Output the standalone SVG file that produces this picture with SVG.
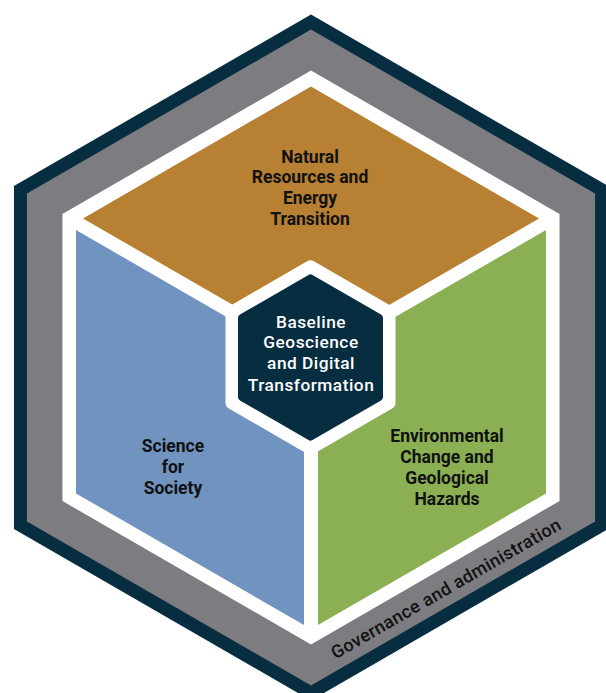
<svg xmlns="http://www.w3.org/2000/svg" width="606" height="693" viewBox="0 0 606 693">
<style>
.lbl{font-family:Roboto,"Liberation Sans",sans-serif;font-weight:700;font-size:17.5px;fill:#111;text-anchor:middle}
.ctr{font-family:Roboto,"Liberation Sans",sans-serif;font-weight:500;font-size:17.3px;letter-spacing:0.5px;fill:#fff;text-anchor:middle}
.gov{font-family:Roboto,"Liberation Sans",sans-serif;font-weight:500;font-size:18px;fill:#111;text-anchor:middle}
</style>
<rect width="606" height="693" fill="#fff"/>
<g id="frame">
<polygon points="311,14.5 608.05,186 608.05,529 311,700.5 13.95,529 13.95,186" fill="#062d40"/>
<polygon points="311,29.5 595.06,193.5 595.06,521.5 311,685.5 26.94,521.5 26.94,193.5" fill="#7d7c81"/>
<polygon points="311,70.5 559.55,214 559.55,501 311,644.5 62.45,501 62.45,214" fill="#fff"/>
<text class="gov" transform="translate(449,594) rotate(-30)" x="0" y="0" textLength="262" lengthAdjust="spacing">Governance and administration</text>
</g>
<g id="natural-resources">
<polygon points="311,86.5 539,218.5 311,350 83,218.5" fill="#b78033"/>
<text class="lbl" x="310" y="162.7">Natural</text>
<text class="lbl" x="310" y="183.3">Resources and</text>
<text class="lbl" x="310" y="204">Energy</text>
<text class="lbl" x="310" y="225">Transition</text>
</g>
<g id="science-society">
<polygon points="76,230 304,361.6 304,625 76,493.4" fill="#7093c0"/>
<text class="lbl" x="173" y="452.3">Science</text>
<text class="lbl" x="173" y="473.3">for</text>
<text class="lbl" x="173" y="493.8">Society</text>
</g>
<g id="environmental">
<polygon points="546,230 318,361.6 318,625 546,493.4" fill="#8bb054"/>
<text class="lbl" x="447" y="442.3">Environmental</text>
<text class="lbl" x="447" y="463.3">Change and</text>
<text class="lbl" x="447" y="484">Geological</text>
<text class="lbl" x="447" y="505">Hazards</text>
</g>
<g id="baseline">
<polygon points="310.5,266.3 389.5,311.9 389.5,403.1 310.5,448.7 231.5,403.1 231.5,311.9" fill="#fff" stroke="#fff" stroke-width="12" stroke-linejoin="round"/>
<polygon points="310.5,278.4 379,317.95 379,397.05 310.5,436.6 242,397.05 242,317.95" fill="#062d40" stroke="#062d40" stroke-width="8" stroke-linejoin="round"/>
<text class="ctr" x="311" y="327.7">Baseline</text>
<text class="ctr" x="311" y="348.3">Geoscience</text>
<text class="ctr" x="311" y="369">and Digital</text>
<text class="ctr" x="311" y="390.5">Transformation</text>
</g>
<g id="connectors"></g>
</svg>
